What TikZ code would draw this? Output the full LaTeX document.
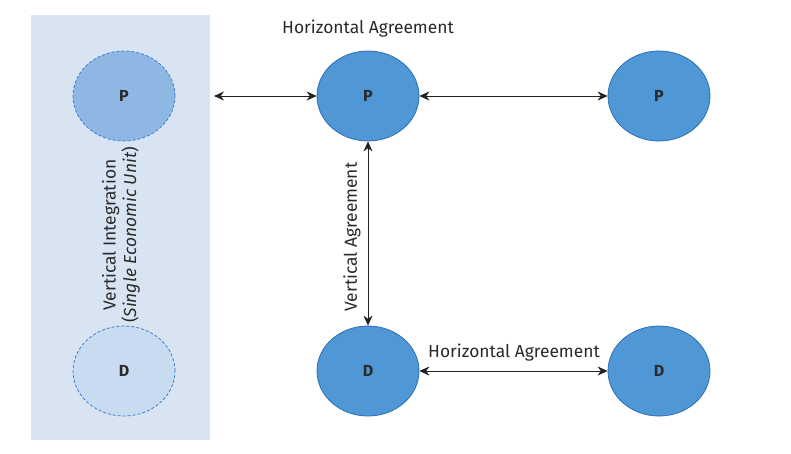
\documentclass[tikz,border=0pt]{standalone}
\usepackage{fontspec}
\setmainfont{Fira Sans}
\usetikzlibrary{arrows.meta,shapes.geometric}
\definecolor{panel}{HTML}{D9E4F3}
\definecolor{nodefill}{HTML}{4F97D5}
\definecolor{nodeedge}{HTML}{2E6FB8}
\definecolor{ghostP}{HTML}{8FB7E4}
\definecolor{ghostD}{HTML}{C9DBF1}
\definecolor{dashedge}{HTML}{3A7FCC}
\definecolor{arrowc}{HTML}{222222}
\definecolor{txt}{HTML}{2A2A2A}
\tikzset{
  firm/.style={ellipse, draw=nodeedge, fill=nodefill, line width=0.8pt, minimum width=102pt, minimum height=90pt, inner sep=0pt, font=\fontsize{16}{16}\selectfont\bfseries, text=txt},
  ghostfirm/.style={firm, draw=dashedge, dashed, dash pattern=on 3pt off 2pt},
  link/.style={{Stealth[length=10pt,width=9pt]}-{Stealth[length=10pt,width=9pt]}, draw=arrowc, line width=0.9pt},
  lbl/.style={font=\fontsize{17.4}{20.5}\selectfont, text=txt, inner sep=0pt}
}
\begin{document}
\begin{tikzpicture}[x=1pt,y=-1pt]
\useasboundingbox (0,0) rectangle (791,453);
\fill[white] (0,0) rectangle (791,453);
\fill[panel] (31,15) rectangle (210,440);
\node[ghostfirm, fill=ghostP] (gp) at (124,96) {P};
\node[ghostfirm, fill=ghostD] (gd) at (124,371) {D};
\node[firm] (p1) at (368,96) {P};
\node[firm] (p2) at (659,96) {P};
\node[firm] (d1) at (368,371) {D};
\node[firm] (d2) at (659,371) {D};
\coordinate (lend) at (214,96);
\draw[link] (lend) -- (p1.west);
\draw[link] (p1.east) -- (p2.west);
\draw[link] (p1.south) -- (d1.north);
\draw[link] (d1.east) -- (d2.west);
\node[lbl] (ht) at (368,29) {Horizontal Agreement};
\node[lbl] (hb) at (514,353) {Horizontal Agreement};
\node[lbl, rotate=90] (vt) at (352,237) {Vertical Agreement};
\node[lbl, rotate=90, align=center] (vi) at (121,235) {Vertical Integration\\(\textit{Single Economic Unit})};
\end{tikzpicture}
\end{document}
